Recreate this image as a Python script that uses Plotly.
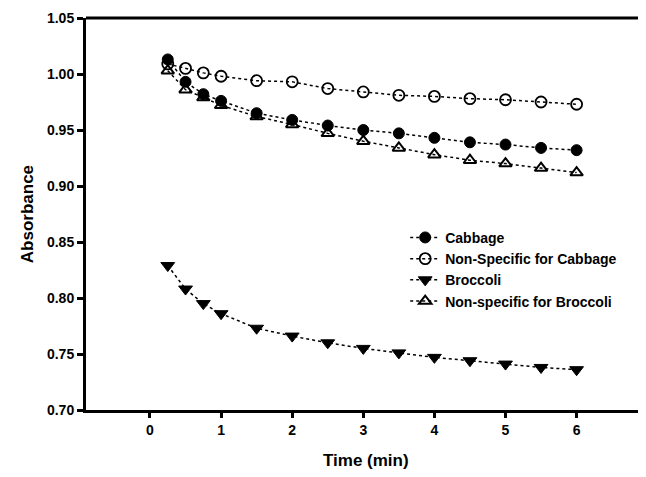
import plotly.graph_objects as go

time_min = [0.25, 0.5, 0.75, 1, 1.5, 2, 2.5, 3, 3.5, 4, 4.5, 5, 5.5, 6]
cabbage = [1.013, 0.993, 0.982, 0.976, 0.965, 0.959, 0.954, 0.950, 0.947, 0.943, 0.939, 0.937, 0.934, 0.932]
nonspec_cabbage = [1.009, 1.005, 1.001, 0.998, 0.994, 0.993, 0.987, 0.984, 0.981, 0.980, 0.978, 0.977, 0.975, 0.973]
broccoli = [0.829, 0.808, 0.795, 0.786, 0.773, 0.766, 0.760, 0.755, 0.751, 0.747, 0.744, 0.741, 0.738, 0.736]
nonspec_broccoli = [1.003, 0.986, 0.979, 0.972, 0.962, 0.955, 0.947, 0.940, 0.934, 0.928, 0.923, 0.920, 0.916, 0.912]

series_names = ["Cabbage", "Non-Specific for Cabbage", "Broccoli", "Non-specific for Broccoli"]
x_ticks = [0, 1, 2, 3, 4, 5, 6]
y_ticks = [0.70, 0.75, 0.80, 0.85, 0.90, 0.95, 1.00, 1.05]

FONT = "Liberation Sans, Arial, sans-serif"
TICK_FONT = dict(family=FONT, size=14, color="black", weight="bold")
TITLE_FONT = dict(family=FONT, size=17, color="black", weight="bold")

styles = [
    dict(symbol="circle", size=11, color="black", line=dict(width=1, color="black")),
    dict(symbol="circle-open", size=11, color="black", line=dict(width=1.8, color="black")),
    dict(symbol="triangle-down", size=12, color="black", line=dict(width=1, color="black")),
    dict(symbol="triangle-up-open", size=11, color="black", line=dict(width=2, color="black")),
]

fig = go.Figure()
for name, ys, mk in zip(series_names, [cabbage, nonspec_cabbage, broccoli, nonspec_broccoli], styles):
    fig.add_trace(go.Scatter(
        x=time_min, y=ys, name=name, mode="lines+markers",
        line=dict(color="black", width=1.5, dash="dot"),
        marker=mk,
    ))

# page body has an 8px margin: figure is offset by (8, 8)
fig.update_layout(
    width=638, height=469,
    margin=dict(l=78, r=0, t=10, b=67),
    paper_bgcolor="white", plot_bgcolor="white",
    font=dict(family=FONT, size=12, color="black"),
    showlegend=True,
    legend=dict(
        x=0.570, y=0.48, xanchor="left", yanchor="top",
        bgcolor="rgba(0,0,0,0)", borderwidth=0,
        font=dict(family=FONT, size=14, color="black", weight="bold"),
        itemwidth=30, tracegroupgap=0,
    ),
    xaxis=dict(
        range=[-0.9, 6.976], tickvals=x_ticks, ticktext=[str(v) for v in x_ticks],
        showgrid=False, zeroline=False, showline=True, linecolor="black", linewidth=3,
        ticks="outside", ticklen=5, tickwidth=2.5, tickcolor="black",
        tickfont=TICK_FONT, automargin=False,
    ),
    yaxis=dict(
        range=[0.70, 1.05], tickvals=y_ticks, tickformat=".2f",
        showgrid=False, zeroline=False, showline=True, linecolor="black", linewidth=3,
        ticks="outside", ticklen=6, tickwidth=2.5, tickcolor="black",
        tickfont=TICK_FONT, automargin=False,
    ),
    shapes=[dict(type="line", xref="paper", yref="paper", x0=0, x1=1, y0=1, y1=1,
                 line=dict(color="black", width=3))],
    annotations=[
        dict(text="Time (min)", xref="paper", yref="paper", x=0.5, y=-0.13,
             xanchor="center", yanchor="middle", showarrow=False, font=TITLE_FONT),
        dict(text="Absorbance", xref="paper", yref="paper", x=-0.105, y=0.5,
             xanchor="center", yanchor="middle", showarrow=False, textangle=-90, font=TITLE_FONT),
    ],
)

fig.write_html("out.html")
